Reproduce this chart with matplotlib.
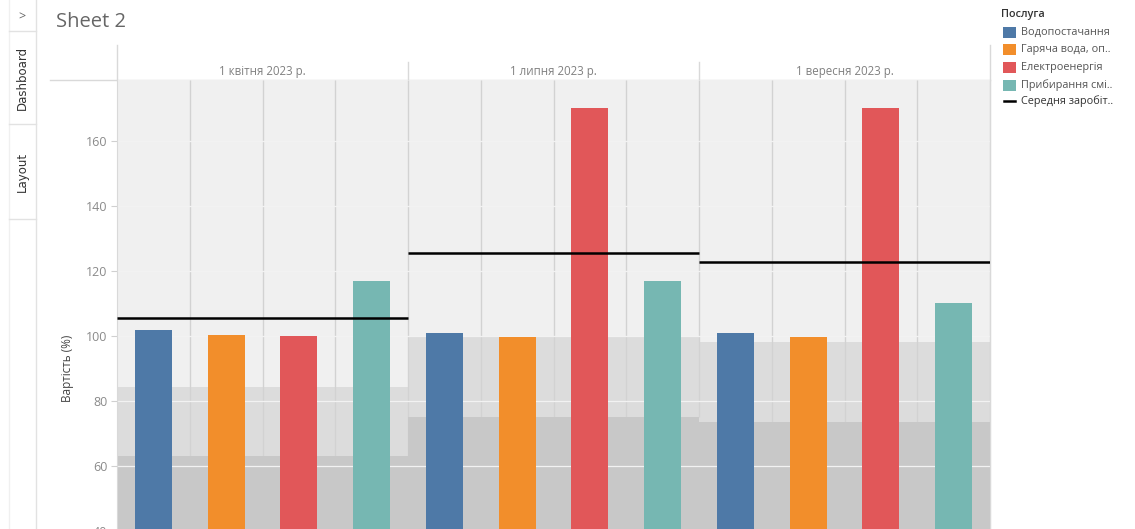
import matplotlib.pyplot as plt
from matplotlib.patches import Rectangle
from matplotlib.lines import Line2D
import numpy as np

plt.rcParams['font.family'] = ['Open Sans', 'DejaVu Sans']

# ---- data ----
periods = ['1 квітня 2023 р.', '1 липня 2023 р.', '1 вересня 2023 р.']
services = ['Водопостачання', 'Гаряча вода, оп..', 'Електроенергія', 'Прибирання смі..']
water = [101.8, 100.8, 100.8]
hot_water = [100.3, 99.7, 99.8]
electricity = [100.0, 170.1, 170.1]
garbage = [117.0, 117.0, 110.1]
avg_salary = [105.4, 125.4, 122.9]
band_mid_top = [84.4, 99.7, 98.1]
band_low_top = [63.1, 75.2, 73.4]
avg_label = 'Середня заробіт..'

colors = ['#4e79a7', '#f28e2b', '#e15759', '#76b7b2']
series = [water, hot_water, electricity, garbage]

W, H = 1135, 529
fig = plt.figure(figsize=(W / 100, H / 100), dpi=100)
fig.patch.set_facecolor('white')

# overlay in pixel coords for the Tableau chrome
ov = fig.add_axes([0, 0, 1, 1], zorder=0)
ov.set_xlim(0, W)
ov.set_ylim(H, 0)
ov.axis('off')
ov.patch.set_alpha(0)

# sidebar
ov.add_line(Line2D([36, 36], [0, H], color='#e2e2e2', lw=1))
ov.add_line(Line2D([9, 9], [0, H], color='#f0f0f0', lw=1))
for yy in [31, 124, 219]:
    ov.add_line(Line2D([9, 36], [yy, yy], color='#e2e2e2', lw=1))
ov.text(22, 17, '>', fontsize=9, color='#666666', ha='center', va='center')
side_font = ['Liberation Sans Narrow', 'DejaVu Sans']
ov.text(22, 78, 'Dashboard', rotation=90, fontsize=8.5, color='#333333',
        ha='center', va='center', family=side_font)
ov.text(22, 172, 'Layout', rotation=90, fontsize=8.5, color='#333333',
        ha='center', va='center', family=side_font)

# title
ov.text(56, 22, 'Sheet 2', fontsize=14.5, color='#666666', ha='left', va='center')

# header
x0, x1 = 117, 990
pane_w = (x1 - x0) / 3
ov.add_line(Line2D([50, x1], [80, 80], color='#d9d9d9', lw=1))
ov.add_line(Line2D([x0, x0], [45, 80], color='#d9d9d9', lw=1))
ov.add_line(Line2D([x1, x1], [45, H], color='#d9d9d9', lw=1))
for i in (1, 2):
    xx = x0 + i * pane_w
    ov.add_line(Line2D([xx, xx], [62, 80], color='#d9d9d9', lw=1))
for i, p in enumerate(periods):
    ov.text(x0 + (i + 0.5) * pane_w, 72, p, fontsize=8.3, color='#808080',
            ha='center', va='center')

# y label
ov.text(68, 368, 'Вартість (%)', rotation=90, fontsize=8.5, color='#444444',
        ha='center', va='center')

# legend
ov.text(1001, 15, 'Послуга', fontsize=7.8, color='#333333', ha='left', va='center',
        fontweight='semibold')
for j, (lab, c) in enumerate(zip(services, colors)):
    yy = 32 + j * 17.7
    ov.add_patch(Rectangle((1003, yy - 5.5), 13, 11, color=c, lw=0))
    ov.text(1021, yy, lab, fontsize=7.8, color='#555555', ha='left', va='center')
ov.add_line(Line2D([1004, 1015], [101, 101], color='black', lw=1.8))
ov.text(1021, 101, avg_label, fontsize=7.8, color='#333333', ha='left', va='center')

# ---- main plot ----
px_per_unit = 3.25
y100 = 336
top_px, bot_px = 80, 540
ytop = 100 + (y100 - top_px) / px_per_unit
ybot = 100 - (bot_px - y100) / px_per_unit

ax = fig.add_axes([x0 / W, 1 - bot_px / H, (x1 - x0) / W, (bot_px - top_px) / H], zorder=1)
ax.set_xlim(0, 12)
ax.set_ylim(ybot, ytop)
ax.set_facecolor('#f0f0f0')

n = len(services)
for i in range(len(periods)):
    xs = [i * n, (i + 1) * n]
    ax.fill_between(xs, ybot, band_mid_top[i], color='#dcdcdc', lw=0, zorder=1)
    ax.fill_between(xs, ybot, band_low_top[i], color='#c8c8c8', lw=0, zorder=1.4)
    ax.vlines(np.arange(i * n + 1, (i + 1) * n + 1), band_low_top[i], ytop,
              color='#d2d2d2', lw=1, zorder=1.2)

for yv in range(40, 180, 20):
    ax.axhline(yv, color='#f2f2f2', lw=0.9, zorder=1.6)

bar_w = 0.51
for j, (vals, c) in enumerate(zip(series, colors)):
    xs = np.arange(len(periods)) * n + j + 0.5
    ax.bar(xs, vals, width=bar_w, bottom=0, color=c, zorder=3, lw=0)

for i, v in enumerate(avg_salary):
    ax.hlines(v, i * n, (i + 1) * n, color='black', lw=1.8, zorder=4)

ax.set_xticks([])
ax.set_yticks(range(40, 180, 20))
ax.tick_params(axis='y', labelsize=9, labelcolor='#8a8a8a', color='#d0d0d0',
               length=4, pad=3)
for s in ['top', 'bottom']:
    ax.spines[s].set_visible(False)
ax.spines['left'].set_color('#d9d9d9')
ax.spines['right'].set_color('#d9d9d9')

fig.savefig('out.png', dpi=100, facecolor='white')
